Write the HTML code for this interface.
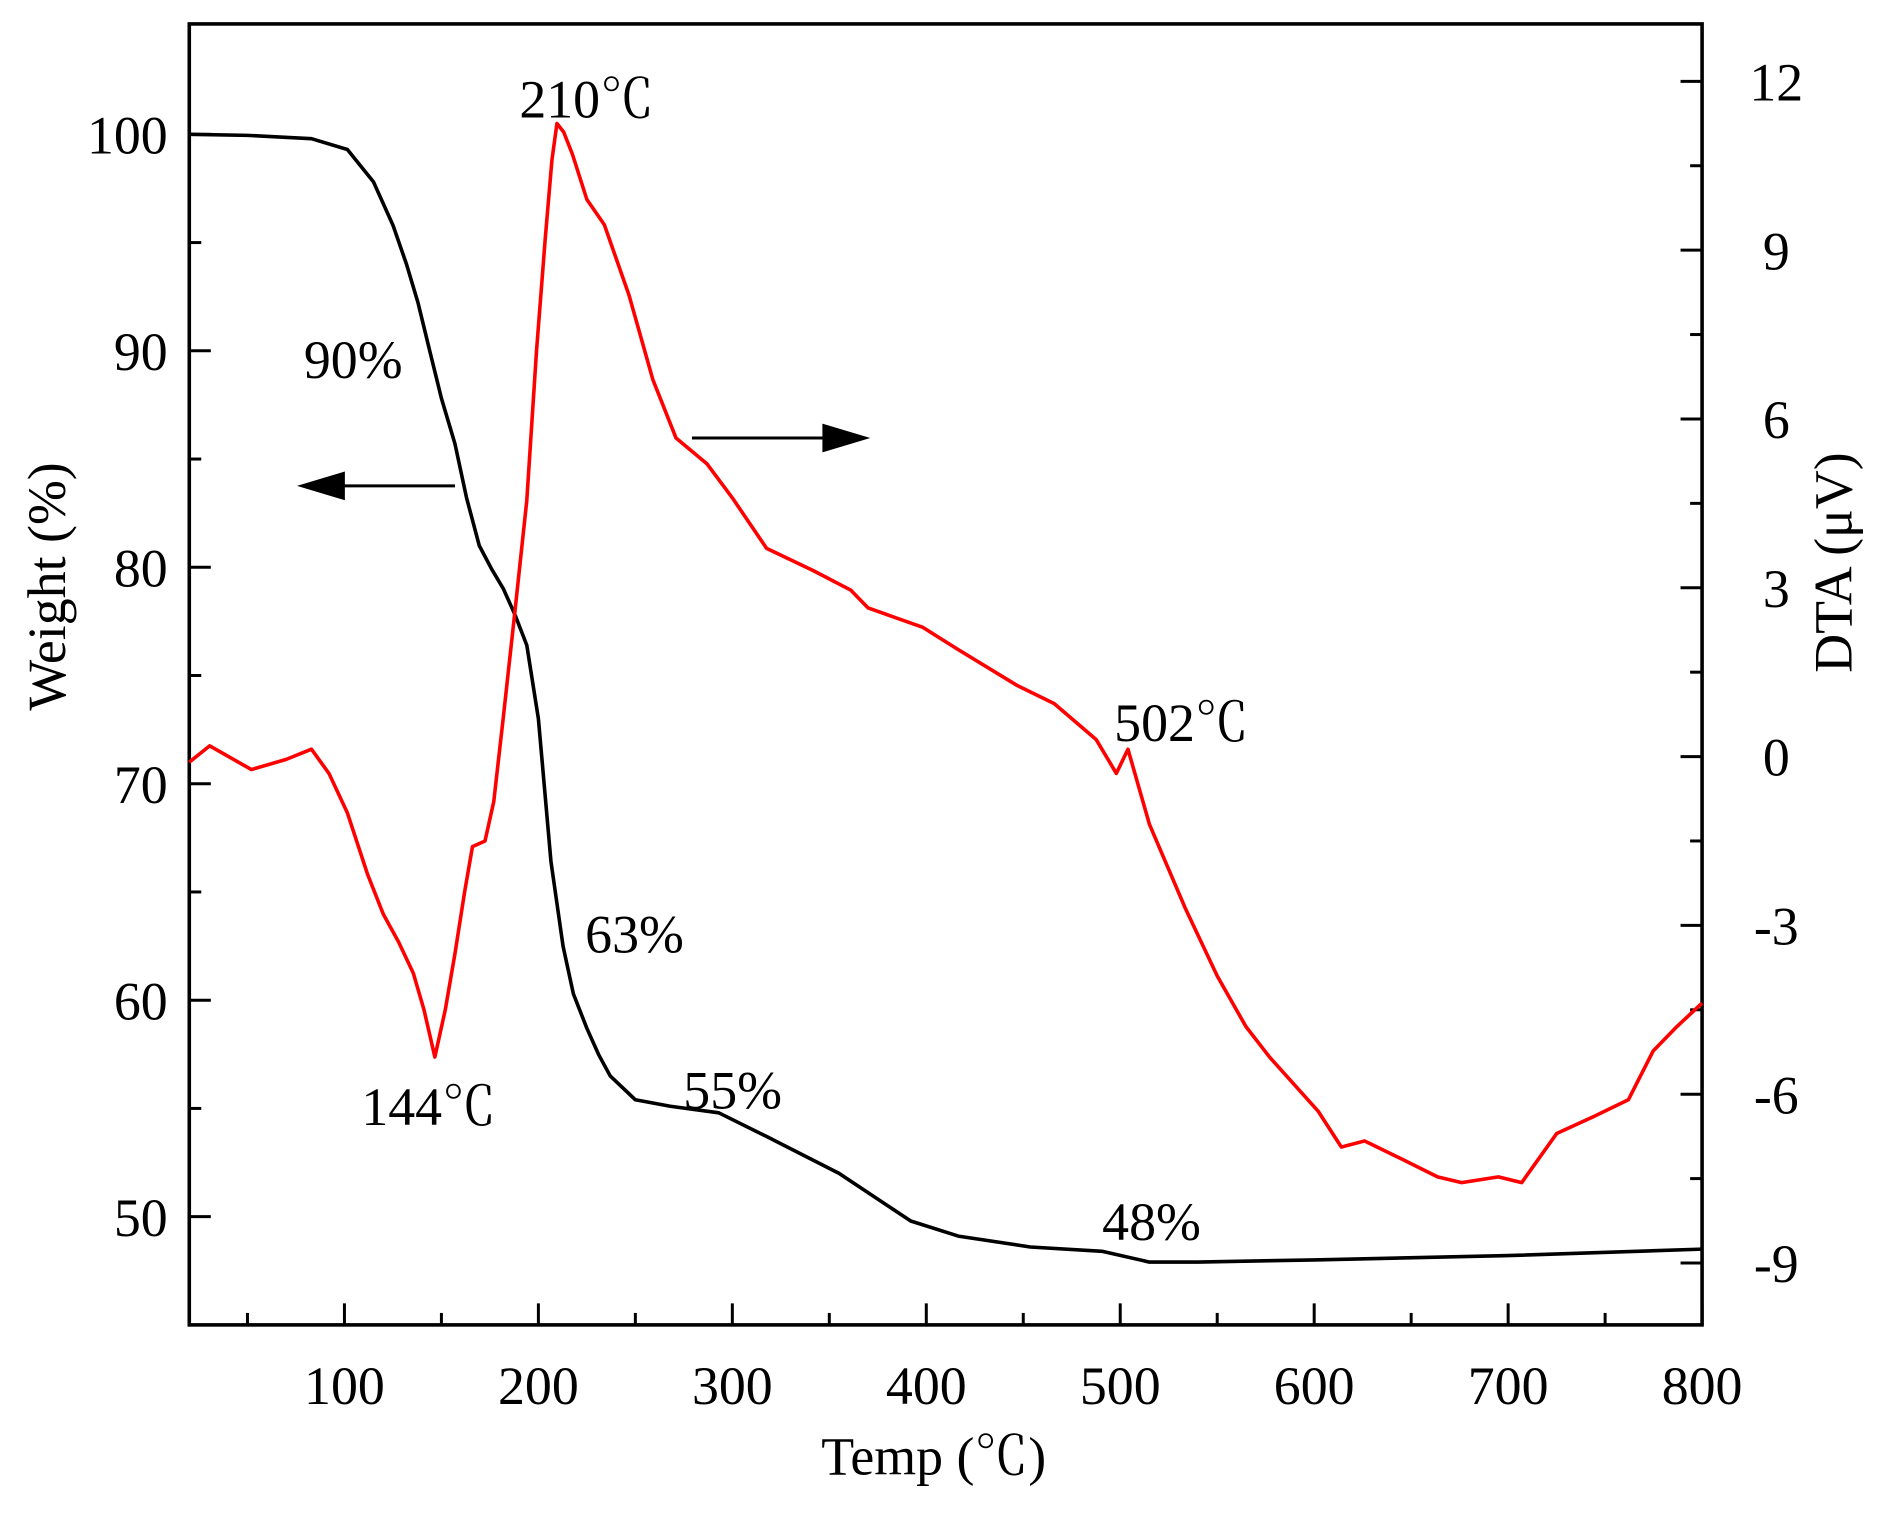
<!DOCTYPE html>
<html><head><meta charset="utf-8"><style>
html,body{margin:0;padding:0;background:#fff;}
svg{display:block;}
text{font-family:"Liberation Serif","Noto Serif CJK SC",serif;fill:#000;}
</style></head><body>
<svg id="chart" width="1877" height="1514" viewBox="0 0 1568 1265" xmlns="http://www.w3.org/2000/svg">
<g id="axes"></g>
<g id="marks"></g>
<g id="labels"></g>
</svg>
<script>
const weightTemps = [20,50,83,101.5,115,125,132,138,144,150,157,163,169.5,176,182,188,194,200,206.5,212.7,218,225,231,237,250,268,293,317.7,355,392,416.5,453.6,490.6,515,540,600,700,800];
const weightValues = [100,99.95,99.8,99.3,97.8,95.8,94,92.2,90,87.8,85.7,83.2,81,79.9,79,77.8,76.4,73,66.4,62.5,60.3,58.7,57.5,56.5,55.4,55.1,54.8,53.7,52,49.8,49.1,48.6,48.4,47.9,47.9,48,48.2,48.5];
const dtaTemps = [20,30.5,52,70,83,92,101.5,112,120,128,135.5,141,146.6,152,157,162,166,172.5,177,182,188,194,199,203.5,207,209.6,213,217.6,225,234,246.7,259,271,287,300,317.7,342,361,370,398,416.5,447,466,487.6,498,504,515,533.6,550,564.8,577,602,614,626,645,663.6,676,695,707,725,744,762,774.8,787,800];
const dtaValues = [-0.1,0.19,-0.23,-0.05,0.13,-0.3,-1.0,-2.1,-2.8,-3.3,-3.85,-4.5,-5.34,-4.5,-3.5,-2.4,-1.6,-1.5,-0.8,0.72,2.6,4.55,7.2,9.2,10.6,11.25,11.1,10.7,9.9,9.45,8.2,6.7,5.66,5.2,4.6,3.7,3.3,2.96,2.64,2.3,1.9,1.26,0.94,0.3,-0.3,0.13,-1.2,-2.7,-3.9,-4.8,-5.34,-6.3,-6.94,-6.83,-7.15,-7.47,-7.57,-7.47,-7.57,-6.7,-6.4,-6.1,-5.23,-4.8,-4.38];
const xTicks = [100,200,300,400,500,600,700,800];
const leftTicks = [50,60,70,80,90,100];
const rightTicks = [-9,-6,-3,0,3,6,9,12];

const L=158,R=1422,T=20,B=1107;
const X0=20,X1=800,YL0=45,YL1=105.1,YR0=-10.1,YR1=13.02;
const xs=v=>L+(v-X0)/(X1-X0)*(R-L);
const yl=v=>B-(v-YL0)/(YL1-YL0)*(B-T);
const yr=v=>B-(v-YR0)/(YR1-YR0)*(B-T);
const NS="http://www.w3.org/2000/svg";
function mk(tag,attrs,parent,txt){const e=document.createElementNS(NS,tag);for(const k in attrs)e.setAttribute(k,attrs[k]);if(txt!==undefined)e.textContent=txt;parent.appendChild(e);return e;}
const axes=document.getElementById('axes'),marks=document.getElementById('marks'),labels=document.getElementById('labels');
const FS=45;

const frame=mk('rect',{x:L,y:T,width:R-L,height:B-T,fill:'none',stroke:'#000','stroke-width':3},axes);



for(let v=50;v<=800;v+=50){
  const major=v%100===0;
  const t=mk('line',{x1:xs(v),x2:xs(v),y1:B,y2:B-(major?18:10),stroke:'#000','stroke-width':2.5},axes);
  
  
}
xTicks.forEach(v=>{
  const t=mk('text',{x:xs(v),y:B+66,'font-size':FS,'text-anchor':'middle'},labels,String(v));
  
  
});
for(let v=50;v<=100;v+=5){
  const major=v%10===0;
  const t=mk('line',{x1:L,x2:L+(major?18:10),y1:yl(v),y2:yl(v),stroke:'#000','stroke-width':2.5},axes);
  
  
}
leftTicks.forEach(v=>{
  const t=mk('text',{x:L-18,y:yl(v)+16,'font-size':FS,'text-anchor':'end'},labels,String(v));
  
  
});
for(let v=-9;v<=12;v+=1.5){
  const major=Number.isInteger(v/3);
  const t=mk('line',{x1:R,x2:R-(major?18:10),y1:yr(v),y2:yr(v),stroke:'#000','stroke-width':2.5},axes);
  
  
}
rightTicks.forEach(v=>{
  const t=mk('text',{x:R+62,y:yr(v)+16,'font-size':FS,'text-anchor':'middle'},labels,String(v));
  
  
});

const wp=weightTemps.map((t,i)=>xs(t).toFixed(1)+','+yl(weightValues[i]).toFixed(1)).join(' ');
const wl=mk('polyline',{points:wp,fill:'none',stroke:'#000','stroke-width':3,'stroke-linejoin':'round'},marks);


const dp=dtaTemps.map((t,i)=>xs(t).toFixed(1)+','+yr(dtaValues[i]).toFixed(1)).join(' ');
const dl=mk('polyline',{points:dp,fill:'none',stroke:'#ff0000','stroke-width':3,'stroke-linejoin':'round'},marks);



const a1=mk('line',{x1:380,y1:406,x2:280,y2:406,stroke:'#000','stroke-width':2.5},marks);


const h1=mk('polygon',{points:'248,406 288,394 288,418',fill:'#000'},marks);


const a2=mk('line',{x1:578,y1:366,x2:695,y2:366,stroke:'#000','stroke-width':2.5},marks);


const h2=mk('polygon',{points:'727,366 687,354 687,378',fill:'#000'},marks);



const notes=[['210℃',490,98],['90%',295,316],['144℃',358,940],['63%',530,796],['55%',612,926],['48%',962,1036],['502℃',987,619]];
notes.forEach(n=>{
  const t=mk('text',{x:n[1],y:n[2],'font-size':FS,'text-anchor':'middle'},labels,n[0]);
  
  
});
const xt=mk('text',{x:780,y:1232,'font-size':FS,'text-anchor':'middle'},labels,'Temp (℃)');


const ylt=mk('text',{x:0,y:0,'font-size':FS,'text-anchor':'middle',transform:'translate(54,490) rotate(-90)'},labels,'Weight (%)');


const yrt=mk('text',{x:0,y:0,'font-size':FS,'text-anchor':'middle',transform:'translate(1547,470) rotate(-90)'},labels,'DTA (μV)');


</script>
</body></html>
